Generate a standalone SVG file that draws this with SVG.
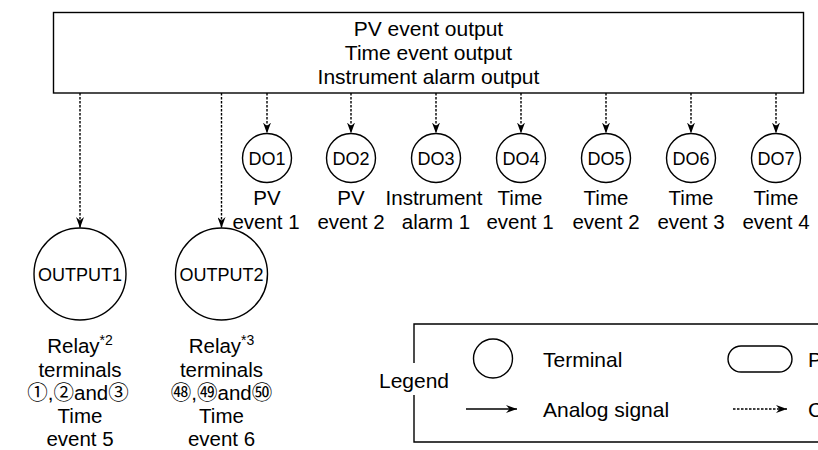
<svg xmlns="http://www.w3.org/2000/svg" width="818" height="450" viewBox="0 0 818 450">
<defs>
<style>
text{font-family:"Liberation Sans",Arial,"Noto Sans CJK JP",sans-serif;fill:#000}
.big{font-size:21px}
.lbl{font-size:20.5px;text-anchor:middle}
.node{font-size:18px;text-anchor:middle}
.sh{fill:#fff;stroke:#000;stroke-width:1.4}
.dot{fill:none;stroke:#000;stroke-width:1.4;stroke-dasharray:2.5 1.5}
.sol{fill:none;stroke:#000;stroke-width:1.4}
</style>
<marker id="ah" viewBox="0 0 11 8" refX="11" refY="4" markerWidth="11" markerHeight="8" markerUnits="userSpaceOnUse" orient="auto">
<path d="M0,0 L11,4 L0,8 L3.5,4 Z" fill="#000"/>
</marker>
</defs>
<rect width="818" height="450" fill="#fff"/>

<g id="source">
<rect class="sh" x="53.5" y="12.5" width="750" height="80.5"/>
<text class="big" x="428.5" y="36" text-anchor="middle">PV event output</text>
<text class="big" x="428.5" y="60" text-anchor="middle">Time event output</text>
<text class="big" x="428.5" y="84" text-anchor="middle">Instrument alarm output</text>
</g>

<g id="connectors">
<line class="dot" x1="80" y1="93" x2="80" y2="228" marker-end="url(#ah)"/>
<line class="dot" x1="221.5" y1="93" x2="221.5" y2="228" marker-end="url(#ah)"/>
<line class="dot" x1="267" y1="93" x2="267" y2="133.5" marker-end="url(#ah)"/>
<line class="dot" x1="351" y1="93" x2="351" y2="133.5" marker-end="url(#ah)"/>
<line class="dot" x1="436" y1="93" x2="436" y2="133.5" marker-end="url(#ah)"/>
<line class="dot" x1="521" y1="93" x2="521" y2="133.5" marker-end="url(#ah)"/>
<line class="dot" x1="606" y1="93" x2="606" y2="133.5" marker-end="url(#ah)"/>
<line class="dot" x1="691" y1="93" x2="691" y2="133.5" marker-end="url(#ah)"/>
<line class="dot" x1="776" y1="93" x2="776" y2="133.5" marker-end="url(#ah)"/>
</g>

<g id="do1">
<circle class="sh" cx="267" cy="158" r="24.5"/>
<text class="node" x="267" y="164.5">DO1</text>
<text class="lbl" x="267" y="205">PV</text>
<text class="lbl" x="266" y="228.5">event 1</text>
</g>
<g id="do2">
<circle class="sh" cx="351" cy="158" r="24.5"/>
<text class="node" x="351" y="164.5">DO2</text>
<text class="lbl" x="351" y="205">PV</text>
<text class="lbl" x="351" y="228.5">event 2</text>
</g>
<g id="do3">
<circle class="sh" cx="436" cy="158" r="24.5"/>
<text class="node" x="436" y="164.5">DO3</text>
<text class="lbl" x="434" y="205">Instrument</text>
<text class="lbl" x="436" y="228.5">alarm 1</text>
</g>
<g id="do4">
<circle class="sh" cx="521" cy="158" r="24.5"/>
<text class="node" x="521" y="164.5">DO4</text>
<text class="lbl" x="520" y="205">Time</text>
<text class="lbl" x="520" y="228.5">event 1</text>
</g>
<g id="do5">
<circle class="sh" cx="606" cy="158" r="24.5"/>
<text class="node" x="606" y="164.5">DO5</text>
<text class="lbl" x="606" y="205">Time</text>
<text class="lbl" x="606" y="228.5">event 2</text>
</g>
<g id="do6">
<circle class="sh" cx="691" cy="158" r="24.5"/>
<text class="node" x="691" y="164.5">DO6</text>
<text class="lbl" x="691" y="205">Time</text>
<text class="lbl" x="691" y="228.5">event 3</text>
</g>
<g id="do7">
<circle class="sh" cx="776" cy="158" r="24.5"/>
<text class="node" x="776" y="164.5">DO7</text>
<text class="lbl" x="776" y="205">Time</text>
<text class="lbl" x="776" y="228.5">event 4</text>
</g>

<g id="output1">
<circle class="sh" cx="80" cy="274" r="46"/>
<text class="node" x="80" y="280.5">OUTPUT1</text>
<text class="lbl" x="80" y="353">Relay<tspan font-size="14" dy="-8">*2</tspan></text>
<text class="lbl" x="80" y="376.5">terminals</text>
<text class="lbl" x="78" y="399.5">①,②and③</text>
<text class="lbl" x="80" y="423">Time</text>
<text class="lbl" x="80" y="446">event 5</text>
</g>
<g id="output2">
<circle class="sh" cx="221.5" cy="274" r="46"/>
<text class="node" x="221.5" y="280.5">OUTPUT2</text>
<text class="lbl" x="221.5" y="353">Relay<tspan font-size="14" dy="-8">*3</tspan></text>
<text class="lbl" x="221.5" y="376.5">terminals</text>
<text class="lbl" x="221.5" y="399.5">㊽,㊾and㊿</text>
<text class="lbl" x="221.5" y="423">Time</text>
<text class="lbl" x="221.5" y="446">event 6</text>
</g>

<g id="legend">
<path class="sol" d="M414,363 V324 H830 V442 H414 V395"/>
<text class="big" x="414" y="388" text-anchor="middle">Legend</text>
<circle class="sh" cx="493" cy="358.5" r="19.5"/>
<text class="big" x="543" y="367">Terminal</text>
<rect class="sh" x="728" y="346" width="64" height="26" rx="13"/>
<text class="big" x="808" y="367">P</text>
<line class="sol" x1="466" y1="409" x2="517" y2="409" marker-end="url(#ah)"/>
<text class="big" x="543" y="417">Analog signal</text>
<line class="dot" x1="733" y1="409" x2="787" y2="409" marker-end="url(#ah)"/>
<text class="big" x="808" y="417">C</text>
</g>
</svg>
